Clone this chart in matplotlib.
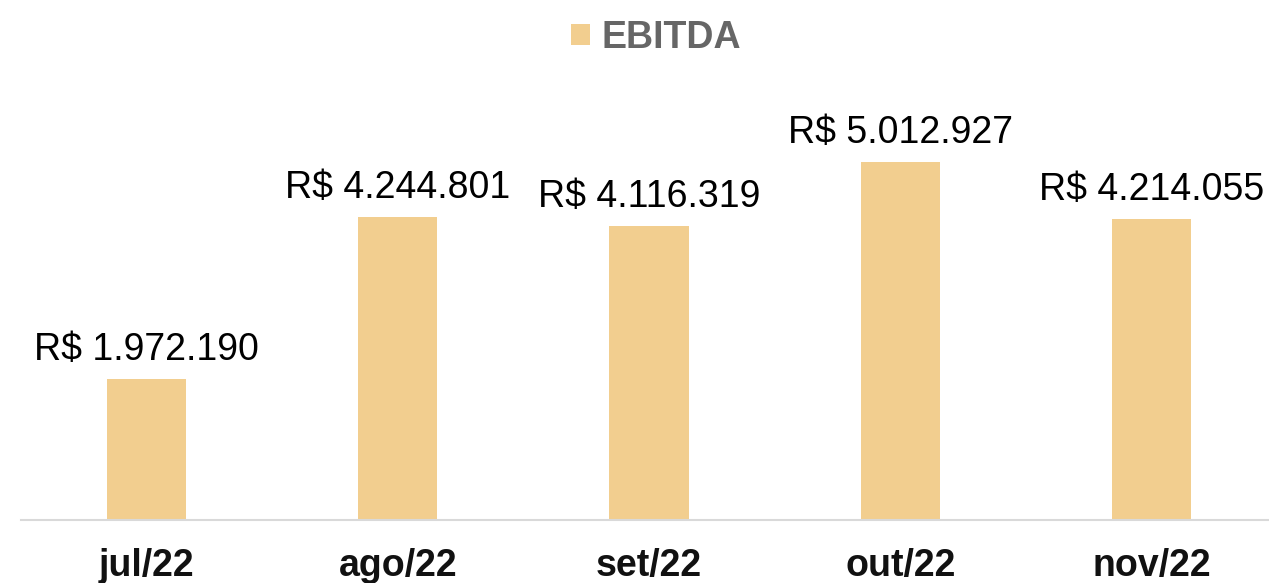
import numpy as np
import matplotlib.pyplot as plt

plt.rcParams['font.family'] = ['Liberation Sans', 'DejaVu Sans']

meses = ['jul/22', 'ago/22', 'set/22', 'out/22', 'nov/22']
ebitda = [1972190, 4244801, 4116319, 5012927, 4214055]
rotulos = ['R$ 1.972.190', 'R$ 4.244.801', 'R$ 4.116.319', 'R$ 5.012.927', 'R$ 4.214.055']

cor_barra = '#F2CE8F'

fig = plt.figure(figsize=(12.69, 5.83), dpi=100)
# axes from x=21px, baseline at y=520px
ax = fig.add_axes([21 / 1269, 63 / 583, 1256 / 1269, 430 / 583])

x = np.arange(len(meses))
bars = ax.bar(x, ebitda, width=0.315, color=cor_barra, label='EBITDA', zorder=2)

for b, txt in zip(bars, rotulos):
    ax.annotate(txt, (b.get_x() + b.get_width() / 2, b.get_height()),
                xytext=(0, 8), textcoords='offset points',
                ha='center', va='bottom', fontsize=27, color='black')

ax.set_xlim(-0.5, 4.5)
ax.set_ylim(0, 430 / 358 * 5012927)
ax.set_xticks(x)
ax.set_xticklabels(meses, fontsize=27, fontweight='bold', color='#111111')
ax.tick_params(axis='x', length=0, pad=20)
ax.set_yticks([])

for s in ['top', 'right', 'left']:
    ax.spines[s].set_visible(False)
ax.spines['bottom'].set_color('#D9D9D9')
ax.spines['bottom'].set_linewidth(1.5)

fig.legend(loc='upper center', bbox_to_anchor=(0.517, 1.024), frameon=False,
           prop={'size': 27, 'weight': 'bold'}, labelcolor='#666666',
           handlelength=0.5, handleheight=0.5, handletextpad=0.3)

fig.savefig('out.png', dpi=100)
